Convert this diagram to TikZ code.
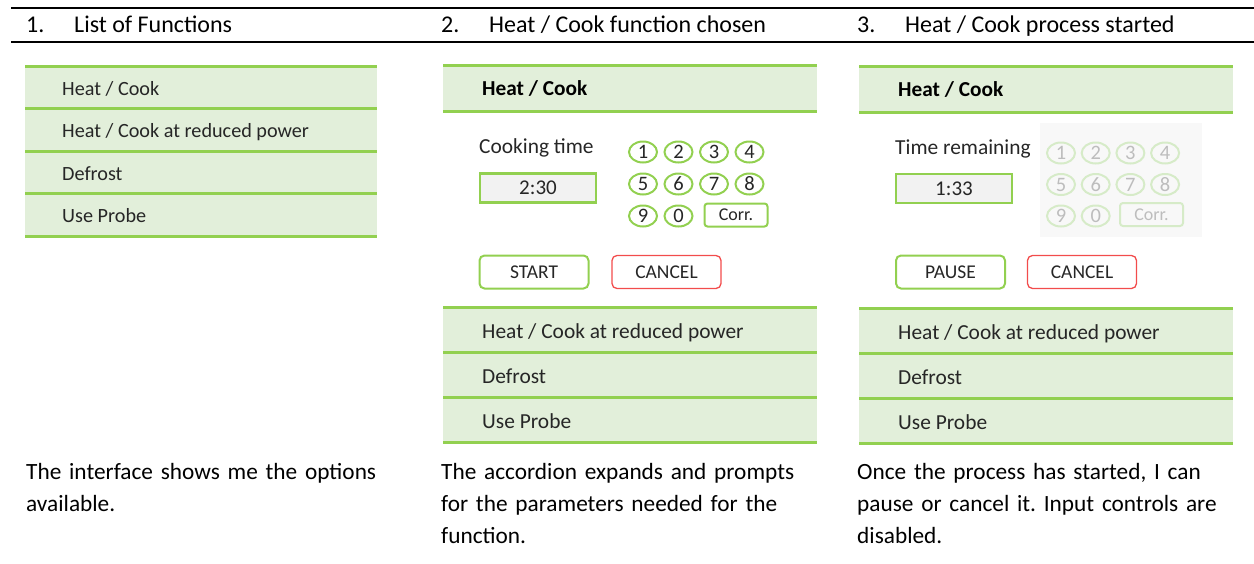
\documentclass[tikz,border=0pt]{standalone}
\usepackage{fontspec}
\setmainfont{Carlito}
\usetikzlibrary{shapes.geometric}
\definecolor{ACLine}{HTML}{92D050}
\definecolor{ACFill}{HTML}{E2EFDA}
\definecolor{ACText}{HTML}{262626}
\definecolor{ACBox}{HTML}{F2F2F2}
\definecolor{ACRed}{HTML}{F24C4C}
\definecolor{ACOffLine}{HTML}{D6EBC8}
\definecolor{ACOffText}{HTML}{BDBDBD}
\definecolor{ACOffBg}{HTML}{F8F8F8}

\tikzset{
  rule/.style={line width=2.5pt,black},
  rowline/.style={line width=3pt,ACLine},
  rowfill/.style={fill=ACFill,draw=none},
  headtext/.style={anchor=base west,inner sep=0pt,font=\fontsize{24}{28}\selectfont},
  rowtext/.style={anchor=base west,inner sep=0pt,text=ACText,font=\fontsize{21.4}{25}\selectfont},
  rowsmall/.style={rowtext,font=\fontsize{20.2}{24}\selectfont},
  rowhead/.style={rowtext,font=\fontsize{21.3}{25}\selectfont\bfseries,text=black},
  timebox/.style={draw=ACLine,line width=2.5pt,fill=ACBox,minimum width=116pt,minimum height=29pt,
                  inner sep=0pt,text=ACText,font=\fontsize{21}{24}\selectfont},
  keyoval/.style={ellipse,draw=ACLine,line width=2pt,minimum width=28pt,minimum height=21pt,
                  inner sep=0pt,text=ACText,font=\fontsize{20.5}{22}\selectfont},
  keycorr/.style={draw=ACLine,line width=2pt,rounded corners=3pt,minimum width=63pt,minimum height=23pt,
                  inner sep=0pt,text=ACText,font=\fontsize{18}{20}\selectfont},
  keyoff/.style={draw=ACOffLine,text=ACOffText},
  btn/.style={draw=ACLine,line width=2pt,rounded corners=5pt,minimum width=109pt,minimum height=33pt,
              inner sep=0pt,text=ACText,font=\fontsize{19.5}{22}\selectfont},
  btnred/.style={btn,draw=ACRed,line width=1.3pt},
  note/.style={anchor=north west,inner sep=0pt,align=left,text width=372pt,
               font=\fontsize{23.3}{32}\selectfont}
}

\begin{document}
\frenchspacing
\begin{tikzpicture}[x=1pt,y=-1pt]
  \useasboundingbox (0,0) rectangle (1254,563);

  % headings
  \draw[rule] (11,8) -- (1254,8);
  \draw[rule] (11,42) -- (1254,42);
  \node[headtext] (n1) at (26,32) {1.};
  \node[headtext] (h1) at (74,32) {List of Functions};
  \node[headtext] (n2) at (441,32) {2.};
  \node[headtext] (h2) at (489,32) {Heat / Cook function chosen};
  \node[headtext] (n3) at (857,32) {3.};
  \node[headtext] (h3) at (905,32) {Heat / Cook process started};

  % 1. list of functions
  \fill[rowfill] (25,66) rectangle (377,236);
  \foreach \y in {66,108,151,193,236} \draw[rowline] (25,\y) -- (377,\y);
  \node[rowsmall] (a1) at (62,95) {Heat / Cook};
  \node[rowsmall] (a2) at (62,137) {Heat / Cook at reduced power};
  \node[rowsmall] (a3) at (62,180) {Defrost};
  \node[rowsmall] (a4) at (62,222) {Use Probe};

  % 2. function chosen
  \fill[rowfill] (443,65) rectangle (817,111);
  \foreach \y in {65,111} \draw[rowline] (443,\y) -- (817,\y);
  \node[rowhead] (b0) at (482,95) {Heat / Cook};
  \node[rowtext] (blabel) at (479,153) {Cooking time};
  \node[timebox] (btime) at (538,188) {2:30};
  \foreach \d [count=\i from 0] in {1,2,3,4,5,6,7,8,9,0}
    \node[keyoval] (bk\d) at ({643+35.5*mod(\i,4)},{152+32*int(\i/4)}) {\d};
  \node[keycorr] (bcorr) at (736,215) {Corr.};
  \node[btn] (bstart) at (534,272) {START};
  \node[btnred] (bcancel) at (666.5,272) {CANCEL};
  \fill[rowfill] (443,307) rectangle (817,442);
  \foreach \y in {307,352,397,442} \draw[rowline] (443,\y) -- (817,\y);
  \node[rowtext] (b2) at (482,338) {Heat / Cook at reduced power};
  \node[rowtext] (b3) at (482,383) {Defrost};
  \node[rowtext] (b4) at (482,428) {Use Probe};

  % 3. process started
  \fill[rowfill] (859,66) rectangle (1233,112);
  \foreach \y in {66,112} \draw[rowline] (859,\y) -- (1233,\y);
  \node[rowhead] (c0) at (898,96) {Heat / Cook};
  \node[rowtext] (clabel) at (895,154) {Time remaining};
  \node[timebox] (ctime) at (954,188.5) {1:33};
  \fill[ACOffBg] (1040,123) rectangle (1202,237);
  \foreach \d [count=\i from 0] in {1,2,3,4,5,6,7,8,9,0}
    \node[keyoval,keyoff] (ck\d) at ({1061+34.7*mod(\i,4)},{153+31.5*int(\i/4)}) {\d};
  \node[keycorr,keyoff] (ccorr) at (1151.5,214.5) {Corr.};
  \node[btn] (cpause) at (950.5,272) {PAUSE};
  \node[btnred] (ccancel) at (1082,272) {CANCEL};
  \fill[rowfill] (859,308) rectangle (1233,443);
  \foreach \y in {308,353,398,443} \draw[rowline] (859,\y) -- (1233,\y);
  \node[rowtext] (c2) at (898,339) {Heat / Cook at reduced power};
  \node[rowtext] (c3) at (898,384) {Defrost};
  \node[rowtext] (c4) at (898,429) {Use Probe};

  % notes
  \node[note] (t1) at (26,463.5) {\raggedright The interface shows me the options available.};
  \node[note] (t2) at (441,463.5) {\raggedright The accordion expands and prompts for the parameters needed for the function.};
  \node[note] (t3) at (857,463.5) {\raggedright Once the process has started, I can pause or cancel it. Input controls are disabled.};
\end{tikzpicture}
\end{document}
